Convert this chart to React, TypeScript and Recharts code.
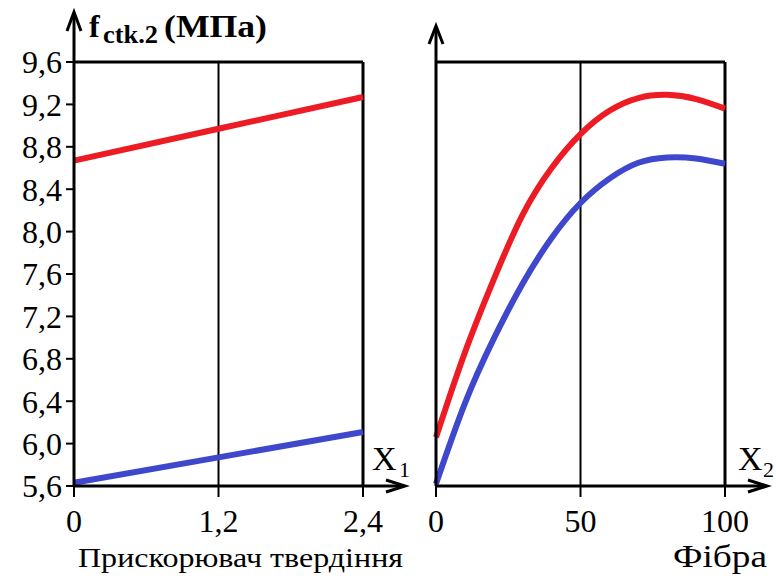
import { LineChart, Line, XAxis, YAxis, ReferenceLine } from "recharts";

// X1 - прискорювач твердіння
const x1Values = [0, 1.2, 2.4];
const red1 = [8.67, 8.97, 9.27];
const blue1 = [5.63, 5.87, 6.11];

// X2 - фібра
const x2Values = [0, 10, 20, 30, 40, 50, 60, 70, 80, 90, 100];
const red2 = [6.06, 6.86, 7.55, 8.16, 8.6, 8.92, 9.14, 9.26, 9.29, 9.25, 9.16];
const blue2 = [5.62, 6.38, 6.99, 7.51, 7.94, 8.27, 8.5, 8.65, 8.7, 8.69, 8.64];

const yTicks = [5.6, 6.0, 6.4, 6.8, 7.2, 7.6, 8.0, 8.4, 8.8, 9.2, 9.6];
const x1Ticks = [0, 1.2, 2.4];
const x2Ticks = [0, 50, 100];

const leftData = x1Values.map((x, i) => ({ x, red: red1[i], blue: blue1[i] }));
const rightData = x2Values.map((x, i) => ({ x, red: red2[i], blue: blue2[i] }));

const RED = "#ED1C24";
const BLUE = "#3F48CC";
const SERIF = "Liberation Serif, DejaVu Serif, serif";

const fmtY = (v: number) => v.toFixed(1).replace(".", ",");
const fmtX = (v: number) => (v === 0 ? "0" : v.toFixed(1).replace(".", ","));

const tickStyle = { fill: "#000", fontSize: 32, fontFamily: SERIF, style: { fontFamily: SERIF } };
const axisLine = { stroke: "#000", strokeWidth: 3 };
const tickLine = { stroke: "#000", strokeWidth: 2 };

const App = () => {
  return (
    <div
      style={{
        position: "absolute",
        left: 0,
        top: 0,
        width: 776,
        height: 578,
        background: "#fff",
        fontFamily: SERIF,
      }}
    >
      <div style={{ position: "absolute", left: 0, top: 0 }}>
        <LineChart
          width={420}
          height={578}
          data={leftData}
          margin={{ top: 62, right: 57, bottom: 32, left: 0 }}
          style={{ fontFamily: SERIF }}
        >
          <XAxis
            dataKey="x"
            type="number"
            domain={[0, 2.4]}
            ticks={x1Ticks}
            tickFormatter={fmtX}
            height={60}
            axisLine={axisLine}
            tickLine={tickLine}
            tickSize={11}
            tickMargin={12}
            tick={tickStyle}
          />
          <YAxis
            type="number"
            domain={[5.6, 9.6]}
            ticks={yTicks}
            tickFormatter={fmtY}
            width={74}
            axisLine={axisLine}
            tickLine={tickLine}
            tickSize={8}
            tickMargin={4}
            tick={tickStyle}
            allowDataOverflow
          />
          <ReferenceLine y={9.6} stroke="#000" strokeWidth={3} />
          <ReferenceLine x={2.4} stroke="#000" strokeWidth={3} />
          <ReferenceLine x={1.2} stroke="#000" strokeWidth={2} />
          <Line dataKey="red" type="linear" stroke={RED} strokeWidth={6} dot={false} isAnimationActive={false} />
          <Line dataKey="blue" type="linear" stroke={BLUE} strokeWidth={6} dot={false} isAnimationActive={false} />
        </LineChart>
      </div>
      <div style={{ position: "absolute", left: 380, top: 0 }}>
        <LineChart
          width={396}
          height={578}
          data={rightData}
          margin={{ top: 62, right: 51, bottom: 32, left: 0 }}
          style={{ fontFamily: SERIF }}
        >
          <XAxis
            dataKey="x"
            type="number"
            domain={[0, 100]}
            ticks={x2Ticks}
            height={60}
            axisLine={axisLine}
            tickLine={tickLine}
            tickSize={11}
            tickMargin={12}
            tick={tickStyle}
          />
          <YAxis
            type="number"
            domain={[5.6, 9.6]}
            ticks={yTicks}
            width={56}
            axisLine={axisLine}
            tickLine={tickLine}
            tickSize={8}
            tick={false}
            allowDataOverflow
          />
          <ReferenceLine y={9.6} stroke="#000" strokeWidth={3} />
          <ReferenceLine x={100} stroke="#000" strokeWidth={3} />
          <ReferenceLine x={50} stroke="#000" strokeWidth={2} />
          <Line dataKey="red" type="natural" stroke={RED} strokeWidth={6} dot={false} isAnimationActive={false} />
          <Line dataKey="blue" type="natural" stroke={BLUE} strokeWidth={6} dot={false} isAnimationActive={false} />
        </LineChart>
      </div>
      <svg
        width={776}
        height={578}
        style={{ position: "absolute", left: 0, top: 0, pointerEvents: "none", fontFamily: SERIF }}
      >
        {/* axis arrows */}
        <g stroke="#000" strokeWidth={3} fill="none">
          <line x1={74} y1={62} x2={74} y2={13} />
          <polyline points="67,31 74,12 81,31" />
          <line x1={363} y1={486} x2={404} y2={486} />
          <polyline points="386,480 405,486 386,492" />
          <line x1={436} y1={62} x2={436} y2={27} />
          <polyline points="429,44 436,26 443,44" />
          <line x1={725} y1={486} x2={766} y2={486} />
          <polyline points="748,480 767,486 748,492" />
        </g>
        {/* title */}
        <text x={89} y={37} fontSize={32} fontWeight="bold" fill="#000">f</text>
        <text x={103} y={43} fontSize={25} fontWeight="bold" fill="#000" textLength={55} lengthAdjust="spacingAndGlyphs">ctk.2</text>
        <text x={164} y={37} fontSize={32} fontWeight="bold" fill="#000" textLength={103} lengthAdjust="spacingAndGlyphs">(МПа)</text>
        {/* variable labels */}
        <text x={372} y={470} fontSize={34} fill="#000">X</text>
        <text x={399} y={477} fontSize={22} fill="#000">1</text>
        <text x={738} y={470} fontSize={34} fill="#000">X</text>
        <text x={763} y={477} fontSize={22} fill="#000">2</text>
        {/* factor names */}
        <text x={78} y={567} fontSize={28} fill="#000" textLength={325} lengthAdjust="spacingAndGlyphs">Прискорювач твердіння</text>
        <text x={673} y={567} fontSize={32} fill="#000" textLength={94} lengthAdjust="spacingAndGlyphs">Фібра</text>
      </svg>
    </div>
  );
};

export default App;
